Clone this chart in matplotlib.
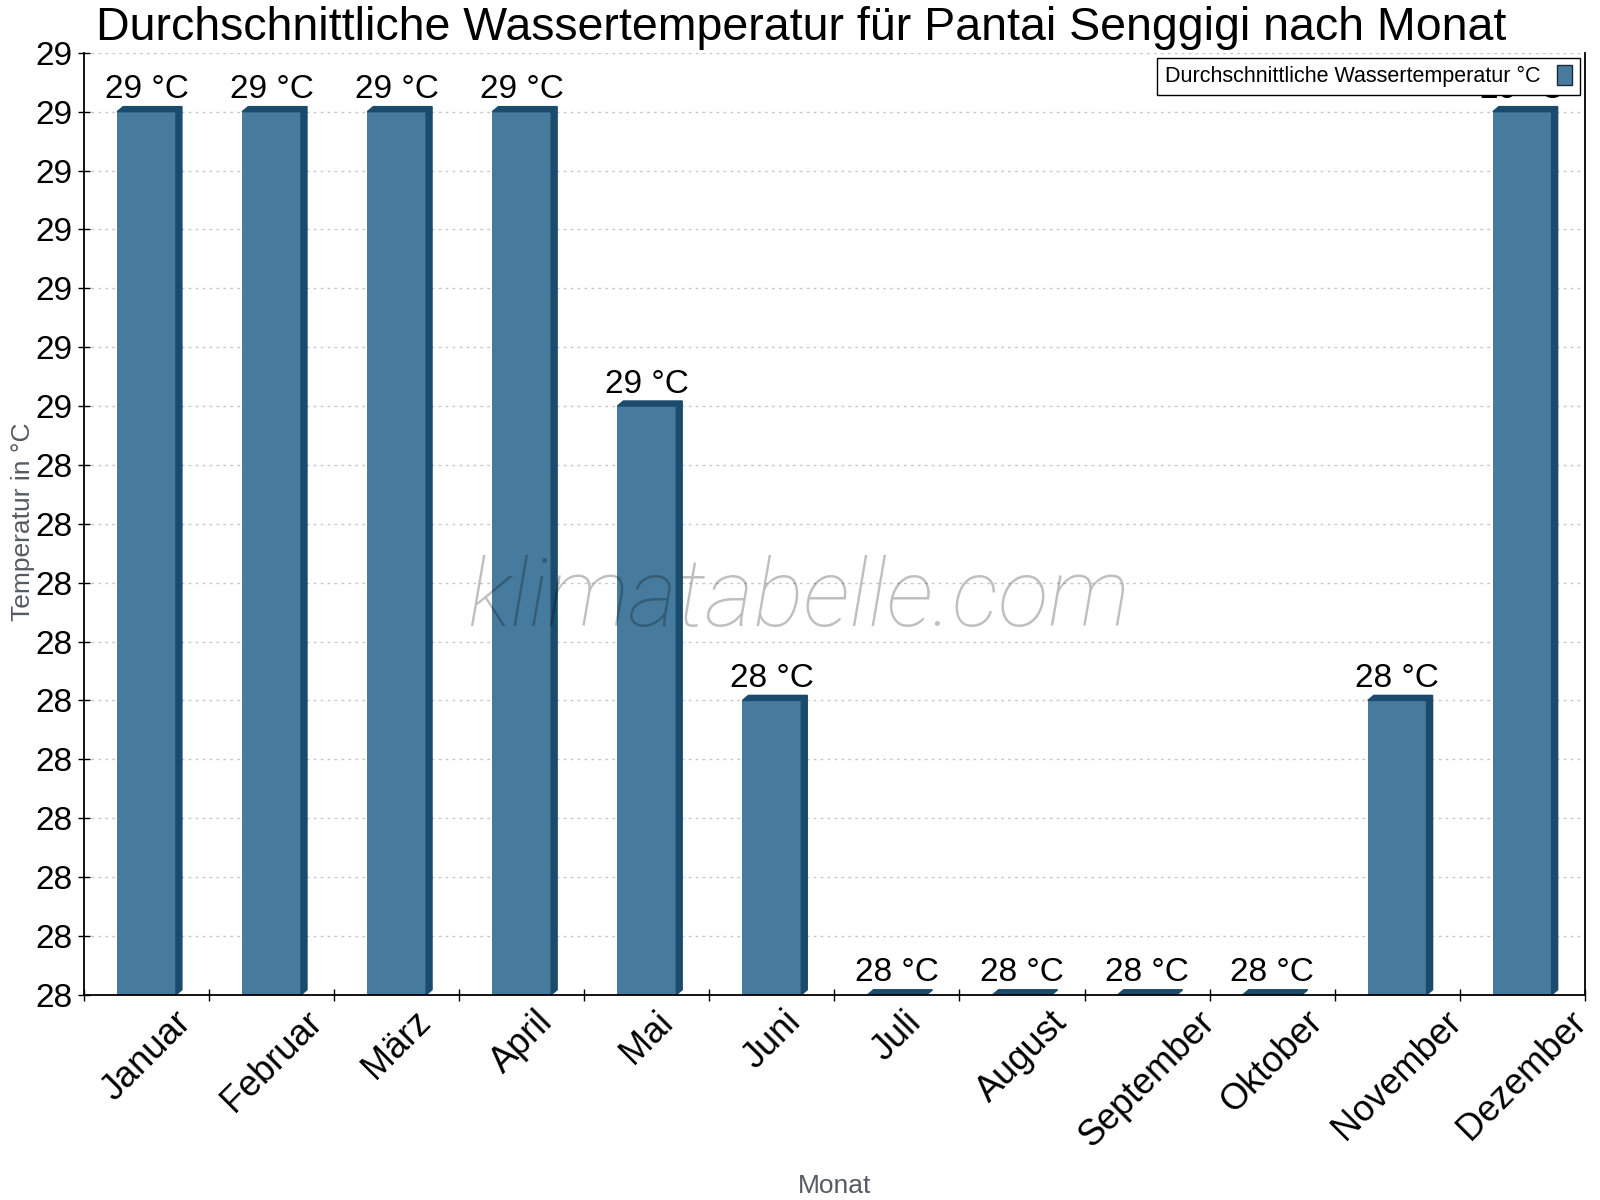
import math
import matplotlib
matplotlib.use("Agg")
import matplotlib.pyplot as plt
from matplotlib.patches import Polygon, Patch
from matplotlib.ticker import FuncFormatter, FixedLocator
import numpy as np

plt.rcParams['font.family'] = ['Liberation Sans', 'DejaVu Sans']

months = ['Januar', 'Februar', 'März', 'April', 'Mai', 'Juni', 'Juli',
          'August', 'September', 'Oktober', 'November', 'Dezember']
water_temp = [28.75, 28.75, 28.75, 28.75, 28.5, 28.25, 28.0, 28.0, 28.0, 28.0, 28.25, 28.75]
value_labels = ['29 °C', '29 °C', '29 °C', '29 °C', '29 °C', '28 °C', '28 °C',
                '28 °C', '28 °C', '28 °C', '28 °C', '29 °C']
y_min, y_max, y_step = 28.0, 28.8, 0.05

front = '#467b9d'
dark = '#1a4b6d'

fig = plt.figure(figsize=(16, 12), dpi=100)
ax = fig.add_axes([0.0525, 0.171, 0.938, 0.785])

x = np.arange(len(months))
bw = 0.47
ax.bar(x, np.array(water_temp) - y_min, bottom=y_min, width=bw, color=front, zorder=2)
ax.set_xlim(-0.5, len(months) - 0.5)
ax.set_ylim(y_min, y_max)

# 3D side and top faces, depth in data units
dx = 0.048
dy = 0.0043
for xi, v in zip(x, water_temp):
    x0, x1 = xi - bw / 2, xi + bw / 2
    side = Polygon([(x1, y_min), (x1 + dx, y_min + dy), (x1 + dx, v + dy), (x1, v)],
                   closed=True, color=dark, zorder=2)
    top = Polygon([(x0, v), (x0 + dx, v + dy), (x1 + dx, v + dy), (x1, v)],
                  closed=True, color=dark, zorder=2)
    ax.add_patch(side)
    ax.add_patch(top)

for xi, v, lab in zip(x, water_temp, value_labels):
    ax.annotate(lab, (xi, v + dy), xytext=(0, 1), textcoords='offset points',
                ha='center', va='bottom', fontsize=24, zorder=3)

ticks = np.linspace(y_min, y_max, int(round((y_max - y_min) / y_step)) + 1)
ax.yaxis.set_major_locator(FixedLocator(ticks))
ax.yaxis.set_major_formatter(FuncFormatter(lambda v, p: '%d' % math.floor(v + 0.5 + 1e-9)))
ax.grid(axis='y', linestyle=(0, (2, 3)), color='#c8c8c8', linewidth=1, zorder=0)
ax.set_axisbelow(True)

ax.set_xticks(x)
ax.set_xticklabels(months, rotation=45, ha='center', va='top', fontsize=26)
ax.set_xticks(np.arange(len(months) + 1) - 0.5, minor=True)
ax.tick_params(axis='x', which='major', length=0, pad=7)
ax.tick_params(axis='x', which='minor', length=9, direction='inout', width=1)
ax.tick_params(axis='y', labelsize=24, length=9, direction='inout', width=1, pad=4)

ax.spines['top'].set_visible(False)
for s in ['left', 'right', 'bottom']:
    ax.spines[s].set_linewidth(1.3)

ax.set_ylabel('Temperatur in °C', fontsize=19, color='#555b62')
ax.yaxis.set_label_coords(-0.0326, 0.502)
ax.set_xlabel('Monat', fontsize=19, color='#555b62')
ax.xaxis.set_label_coords(0.5, -0.19)
ax.set_title('Durchschnittliche Wassertemperatur für Pantai Senggigi nach Monat',
             fontsize=33.5, pad=9, x=0.4777)

fig.text(0.499, 0.4995, 'klimatabelle.com', ha='center', va='center',
         fontsize=67.5, style='italic', color='black', alpha=0.25,
         family=['Roboto', 'DejaVu Sans'], weight='light', zorder=4)

handle = Patch(facecolor=front, edgecolor='#1a2a3a', linewidth=1)
leg = ax.legend([handle], ['Durchschnittliche Wassertemperatur °C'], loc='upper right',
                bbox_to_anchor=(0.9967, 0.9947), borderaxespad=0, fontsize=15.5,
                markerfirst=False, fancybox=False, framealpha=1, edgecolor='black',
                handlelength=0.7, handleheight=1.0, handletextpad=0.8,
                borderpad=0.35)
leg.get_frame().set_linewidth(1)
leg.set_zorder(10)

fig.savefig('out.png', dpi=100)
